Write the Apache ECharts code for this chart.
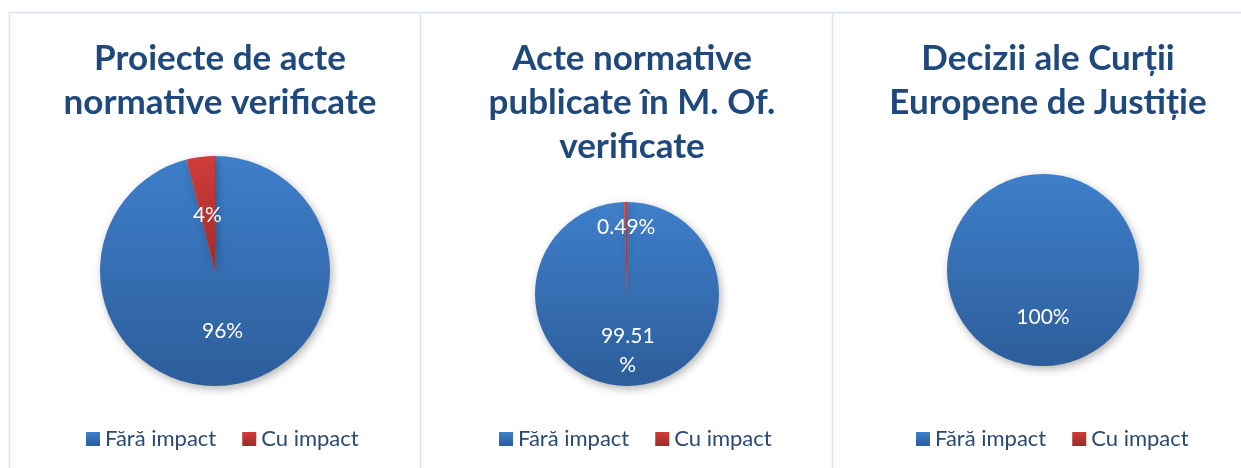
<!DOCTYPE html>
<html>
<head>
<meta charset="utf-8">
<script src="https://cdn.jsdelivr.net/npm/echarts@6/dist/echarts.min.js"></script>
<style>
  html, body { margin: 0; padding: 0; background: #fff; }
  #main { width: 1241px; height: 468px; }
</style>
</head>
<body>
<div id="main"></div>
<script>
const categories = ["Fără impact", "Cu impact"];
const titles = [
  "Proiecte de acte\nnormative verificate",
  "Acte normative\npublicate în M. Of.\nverificate",
  "Decizii ale Curții\nEuropene de Justiție"
];
// procente
const shareProiecte = [96, 4];
const shareActe = [99.51, 0.49];
const shareDecizii = [100, 0];

const chart = echarts.init(document.getElementById("main"));

const blue = new echarts.graphic.LinearGradient(0, 0, 0, 1, [
  { offset: 0, color: "#3e7fcb" },
  { offset: 1, color: "#2d5d9a" },
]);
const red = new echarts.graphic.LinearGradient(0, 0, 0, 1, [
  { offset: 0, color: "#cf3d3a" },
  { offset: 1, color: "#a02a28" },
]);

// poziții și decalaje de etichete (stil, nu date)
const panels = [
  { cx: 215, cy: 271, r: 115, legendLeft: 81, data: shareProiecte, offsets: [[0, 0], [0, 4]] },
  { cx: 627, cy: 294, r: 92, legendLeft: 494, data: shareActe, offsets: [[0, 8], [0, -18]] },
  { cx: 1043, cy: 270, r: 96, legendLeft: 911, data: shareDecizii, offsets: [[0, -4], [0, 0]] },
];

function makeData(values, offsets) {
  return categories.map((name, i) => ({
    name: name,
    value: values[i],
    itemStyle: { color: i === 0 ? blue : red },
    label: { offset: offsets[i] },
  }));
}

const labelText = (p) => {
  if (!p.value) return "";
  if (p.value === 99.51) return "99.51\n%";
  return p.value + "%";
};

const option = {
  animation: false,
  backgroundColor: "#fff",
  graphic: [
    { type: "line", shape: { x1: 9, y1: 12.5, x2: 1241, y2: 12.5 }, style: { stroke: "#d5e3f4", lineWidth: 1.5 } },
    { type: "line", shape: { x1: 9.5, y1: 12, x2: 9.5, y2: 468 }, style: { stroke: "#d5e3f4", lineWidth: 1.5 } },
    { type: "line", shape: { x1: 420.5, y1: 12, x2: 420.5, y2: 468 }, style: { stroke: "#d5e3f4", lineWidth: 1.5 } },
    { type: "line", shape: { x1: 832.5, y1: 12, x2: 832.5, y2: 468 }, style: { stroke: "#d5e3f4", lineWidth: 1.5 } },
  ],
  title: panels.map((p, i) => ({
    text: titles[i],
    left: p.cx,
    top: 32,
    textAlign: "center",
    textStyle: {
      fontFamily: "Lato",
      fontWeight: "bold",
      fontSize: 35,
      lineHeight: 44,
      color: "#1f497d",
    },
  })),
  legend: panels.map((p) => ({
    data: categories,
    left: p.legendLeft,
    top: 423,
    orient: "horizontal",
    icon: "rect",
    itemWidth: 14,
    itemHeight: 14,
    itemGap: 26,
    textStyle: { fontFamily: "Lato", fontSize: 22, color: "#2a4a72" },
    selectedMode: false,
  })),
  series: panels.map((p) => ({
    type: "pie",
    center: [p.cx, p.cy],
    radius: p.r,
    startAngle: 90,
    clockwise: true,
    silent: true,
    data: makeData(p.data, p.offsets),
    itemStyle: {
      shadowBlur: 8,
      shadowOffsetX: 2,
      shadowOffsetY: 3,
      shadowColor: "rgba(0,0,0,0.3)",
    },
    label: {
      show: true,
      position: "inside",
      formatter: labelText,
      fontFamily: "Lato",
      fontSize: 21,
      lineHeight: 29,
      color: "#fff",
    },
    labelLine: { show: false },
  })),
};

chart.setOption(option);
</script>
</body>
</html>
